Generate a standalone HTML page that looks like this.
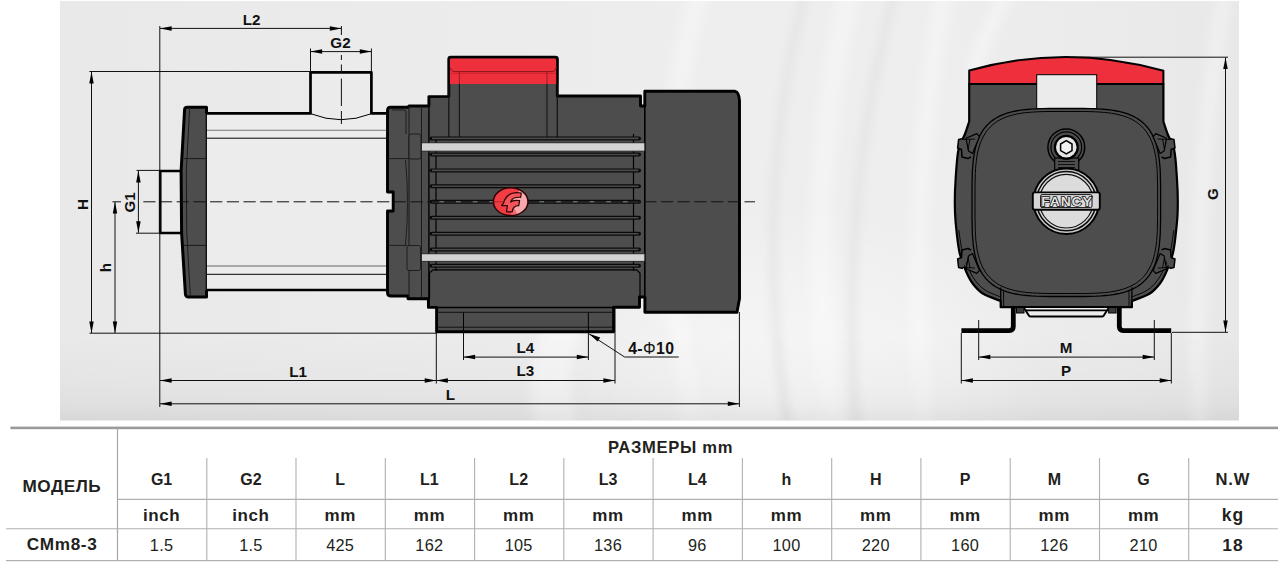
<!DOCTYPE html>
<html><head><meta charset="utf-8">
<style>
html,body{margin:0;padding:0;background:#fff;}
body{width:1288px;height:571px;overflow:hidden;font-family:"Liberation Sans",sans-serif;}
svg{display:block;}
text{font-family:"Liberation Sans",sans-serif;}
.lbl{font-weight:bold;font-size:15.2px;fill:#111;text-anchor:middle;}
.th{font-weight:bold;font-size:16px;fill:#231f20;text-anchor:middle;}
.tu{font-weight:bold;font-size:17px;letter-spacing:0.6px;fill:#231f20;text-anchor:middle;}
.td{font-size:16.3px;letter-spacing:0.3px;fill:#231f20;text-anchor:middle;}
.dim{stroke:#111;stroke-width:1;fill:none;}
.ext{stroke:#111;stroke-width:1;fill:none;}
.ol{stroke:#000;stroke-width:2.7;fill:none;stroke-linejoin:round;}
.thin{stroke:#000;stroke-width:1;fill:none;}
.ah{fill:#000;stroke:none;}
</style></head><body>
<svg width="1288" height="571" viewBox="0 0 1288 571">
<!-- PANEL -->
<g id="panel">
<defs>
<linearGradient id="bgh" x1="60" y1="0" x2="1239" y2="0" gradientUnits="userSpaceOnUse">
<stop offset="0" stop-color="#e9e9e9"/>
<stop offset="0.25" stop-color="#ebebeb"/>
<stop offset="0.42" stop-color="#ececec"/>
<stop offset="0.55" stop-color="#eeeeee"/>
<stop offset="0.74" stop-color="#eeeeee"/>
<stop offset="0.82" stop-color="#ececec"/>
<stop offset="0.93" stop-color="#eaeaea"/>
<stop offset="1" stop-color="#e8e8e8"/>
</linearGradient>
<radialGradient id="bgr" cx="790" cy="400" r="260" gradientUnits="userSpaceOnUse" gradientTransform="translate(790,400) scale(1,0.75) translate(-790,-400)">
<stop offset="0" stop-color="#fff" stop-opacity="0.55"/>
<stop offset="0.6" stop-color="#fff" stop-opacity="0.25"/>
<stop offset="1" stop-color="#fff" stop-opacity="0"/>
</radialGradient>
<linearGradient id="bgb" x1="0" y1="335" x2="0" y2="420.5" gradientUnits="userSpaceOnUse">
<stop offset="0" stop-color="#000" stop-opacity="0"/>
<stop offset="0.55" stop-color="#000" stop-opacity="0.02"/>
<stop offset="0.8" stop-color="#000" stop-opacity="0.04"/>
<stop offset="1" stop-color="#000" stop-opacity="0.075"/>
</linearGradient>
<filter id="blur6" x="-20%" y="-20%" width="140%" height="140%"><feGaussianBlur stdDeviation="5"/></filter>
<clipPath id="pclip"><rect x="60" y="1" width="1179" height="419.5"/></clipPath>
</defs>
<rect x="60" y="1" width="1179" height="419.5" fill="url(#bgh)"/>
<rect x="60" y="1" width="1179" height="419.5" fill="url(#bgr)"/>
<g clip-path="url(#pclip)" filter="url(#blur6)" fill="none" stroke-linecap="round">
<path d="M700,-10 Q640,200 700,440" stroke="#ffffff" stroke-opacity="0.3" stroke-width="20"/>
<path d="M806,-10 Q750,200 790,440" stroke="#dedede" stroke-opacity="0.55" stroke-width="9"/>
<path d="M850,-10 Q800,210 835,440" stroke="#ffffff" stroke-opacity="0.3" stroke-width="22"/>
<path d="M895,-10 Q836,210 858,440" stroke="#dedede" stroke-opacity="0.55" stroke-width="9"/>
<path d="M945,-10 Q905,200 925,440" stroke="#ffffff" stroke-opacity="0.3" stroke-width="18"/>
<path d="M1010,-10 Q985,30 975,70" stroke="#ffffff" stroke-opacity="0.35" stroke-width="14"/>
<path d="M1225,-10 Q1190,200 1200,440" stroke="#ffffff" stroke-opacity="0.3" stroke-width="16"/>
<path d="M560,335 Q540,380 560,440" stroke="#ffffff" stroke-opacity="0.45" stroke-width="40"/>
</g>
<rect x="60" y="330" width="1179" height="90.5" fill="url(#bgb)"/>
</g>
<!-- LEFTVIEW -->
<g id="leftview">
<rect x="206" y="113.4" width="182" height="176.6" fill="#ececec"/>
<path d="M310.5,113.4 L310.5,72.4 L371.4,72.4 L371.4,113.4 Q341,126 310.5,113.4 Z" fill="#ebebeb" stroke="none"/>
<path class="thin" d="M311,113.8 Q341,125.6 371,113.8"/>
<path class="ol" d="M205,113.4 L310.5,113.4 L310.5,72.4 L371.4,72.4 L371.4,113.4 L389,113.4"/>
<path class="ol" d="M205,290 L389,290"/>
<line x1="206" y1="130.2" x2="388" y2="130.2" stroke="#777" stroke-width="1.1"/>
<line class="thin" x1="206" y1="138.2" x2="388" y2="138.2" stroke-width="1.2"/>
<line x1="206" y1="266" x2="388" y2="266" stroke="#666" stroke-width="1.1"/>
<line class="thin" x1="206" y1="274.3" x2="388" y2="274.3" stroke-width="1.1"/>
<rect x="160" y="171" width="22" height="62" fill="#ebebeb"/>
<path class="ol" d="M181,171 L160.2,171 L160.2,233 L181.5,233"/>
<path d="M187,107 L206.5,107 L206.5,297 L188.5,297 Q185.6,297 185.4,294 L181.6,233 L181.1,171 L184.6,109.5 Q184.8,107 187,107 Z" fill="#4d4d4d"/>
<path d="M206.5,113.4 L206.5,107.2 L187,107.2 Q184.8,107.2 184.6,109.5 L181.1,171 L181.6,233 L185.4,294 Q185.6,297 188.5,297 L206.5,297 L206.5,290" fill="none" stroke="#000" stroke-width="3" stroke-linejoin="round"/>
<line x1="206.3" y1="113" x2="206.3" y2="290" stroke="#000" stroke-width="1.2"/>
<path d="M189.6,109 L186.3,171 L186.8,233 L190.3,295.5" fill="none" stroke="#161616" stroke-width="0.9"/>
<line x1="184" y1="158.6" x2="206" y2="158.6" stroke="#1a1a1a" stroke-width="1"/>
<line x1="184" y1="245.4" x2="206" y2="245.4" stroke="#1a1a1a" stroke-width="1"/>
<path d="M387.5,110.6 Q387.5,107.3 390.5,107.3 L408,107.3 L409,106 L428.9,106 L428.9,96.6 L448.8,96.4 L448.8,59.3 Q448.8,57.3 450.8,57.3 L555.4,57.3 Q557.4,57.3 557.4,59.3 L557.3,96 L640.5,96 L640.5,106 L644.8,106 L644.8,91.3 L735.2,91.3 Q739,92.2 739.5,100.5 L739.5,298.6 L737,312.2 L644.9,312.2 L644.9,297 L639.5,297 L639.5,307.3 L613.6,307.3 L613.6,331.7 L436.6,331.7 L436.6,307.4 L428.4,307.4 L428.4,298.7 L408,298.7 L408,296 L391,296 Q387.5,296 387.5,292.5 L387.5,211 L393.2,211 L393.2,192 L387.5,192 Z" fill="#4d4d4d" stroke="#000" stroke-width="2.9" stroke-linejoin="round"/>
<path d="M449.9,84 L449.9,60 Q449.9,58.5 451.5,58.5 L554.6,58.5 Q556.2,58.5 556.2,60 L556.2,84 Z" fill="#ee2f3c"/>
<path d="M450.5,67.5 Q450.8,71.6 455,71.6 L552,71.6 Q556,71.4 556.2,67" fill="none" stroke="#8a161d" stroke-width="1"/>
<path d="M451,73.4 L556,73.4" fill="none" stroke="#c3222c" stroke-width="0.8"/>
<line x1="459.4" y1="71.4" x2="459.4" y2="84" stroke="#9c1c24" stroke-width="1"/>
<line x1="547" y1="71.4" x2="547" y2="84" stroke="#9c1c24" stroke-width="1"/>
<line x1="459.4" y1="84" x2="459.4" y2="138" stroke="#111" stroke-width="1"/>
<line x1="547" y1="84" x2="547" y2="138" stroke="#111" stroke-width="1"/>
<line x1="448.8" y1="84" x2="448.8" y2="138" stroke="#111" stroke-width="1.2"/>
<line x1="557.3" y1="84" x2="557.3" y2="138" stroke="#111" stroke-width="1.2"/>
<line x1="644.8" y1="91.3" x2="644.8" y2="312" stroke="#000" stroke-width="1.6"/>
<path d="M409,106 L409,298" stroke="#1a1a1a" stroke-width="1" fill="none"/>
<path d="M421.5,106 L421.5,298" stroke="#1a1a1a" stroke-width="1" fill="none"/>
<path d="M428.9,96.4 L428.9,307" stroke="#000" stroke-width="1.4" fill="none"/>
<path d="M392,110 L404,110 Q406,110 406,112 L406,134" stroke="#1a1a1a" stroke-width="0.9" fill="none"/>
<rect x="409" y="134" width="12" height="25" rx="2" fill="#4d4d4d" stroke="#1a1a1a" stroke-width="0.9"/>
<rect x="407" y="245.5" width="13.5" height="25" rx="2" fill="#4d4d4d" stroke="#1a1a1a" stroke-width="0.9"/>
<line x1="388" y1="158.6" x2="409" y2="158.6" stroke="#1a1a1a" stroke-width="0.9"/>
<line x1="388" y1="245.4" x2="407" y2="245.4" stroke="#1a1a1a" stroke-width="0.9"/>
<path d="M405.5,160 Q409.5,202 405.5,245" stroke="#1a1a1a" stroke-width="0.9" fill="none"/>
<line x1="436" y1="138" x2="436" y2="271" stroke="#000" stroke-width="1.2"/>
<line x1="633.5" y1="134" x2="633.5" y2="271" stroke="#000" stroke-width="1.2"/>
<line x1="431.5" y1="138.4" x2="639" y2="138.4" stroke="#0a0a0a" stroke-width="4" stroke-linecap="round"/>
<line x1="432" y1="138.4" x2="638.5" y2="138.4" stroke="#4b4b4b" stroke-width="1.6"/>
<line x1="431.5" y1="154.5" x2="639" y2="154.5" stroke="#0a0a0a" stroke-width="4" stroke-linecap="round"/>
<line x1="432" y1="154.5" x2="638.5" y2="154.5" stroke="#4b4b4b" stroke-width="1.6"/>
<line x1="431.5" y1="170.4" x2="639" y2="170.4" stroke="#0a0a0a" stroke-width="4" stroke-linecap="round"/>
<line x1="432" y1="170.4" x2="638.5" y2="170.4" stroke="#4b4b4b" stroke-width="1.6"/>
<line x1="431.5" y1="186.2" x2="639" y2="186.2" stroke="#0a0a0a" stroke-width="4" stroke-linecap="round"/>
<line x1="432" y1="186.2" x2="638.5" y2="186.2" stroke="#4b4b4b" stroke-width="1.6"/>
<line x1="431.5" y1="201.7" x2="639" y2="201.7" stroke="#0a0a0a" stroke-width="4" stroke-linecap="round"/>
<line x1="432" y1="201.7" x2="638.5" y2="201.7" stroke="#4b4b4b" stroke-width="1.6"/>
<line x1="431.5" y1="217.8" x2="639" y2="217.8" stroke="#0a0a0a" stroke-width="4" stroke-linecap="round"/>
<line x1="432" y1="217.8" x2="638.5" y2="217.8" stroke="#4b4b4b" stroke-width="1.6"/>
<line x1="431.5" y1="233.7" x2="639" y2="233.7" stroke="#0a0a0a" stroke-width="4" stroke-linecap="round"/>
<line x1="432" y1="233.7" x2="638.5" y2="233.7" stroke="#4b4b4b" stroke-width="1.6"/>
<line x1="431.5" y1="249.5" x2="639" y2="249.5" stroke="#0a0a0a" stroke-width="4" stroke-linecap="round"/>
<line x1="432" y1="249.5" x2="638.5" y2="249.5" stroke="#4b4b4b" stroke-width="1.6"/>
<line x1="431.5" y1="265.7" x2="639" y2="265.7" stroke="#0a0a0a" stroke-width="4" stroke-linecap="round"/>
<line x1="432" y1="265.7" x2="638.5" y2="265.7" stroke="#4b4b4b" stroke-width="1.6"/>
<path d="M429.5,298 L429.5,273 L433,269.8 L636.5,269.8 L640,273 L640,296" fill="none" stroke="#000" stroke-width="1.2"/>
<rect x="421.5" y="142.8" width="223.3" height="8.3" fill="#d3d3d3" stroke="#1a1a1a" stroke-width="0.8"/>
<rect x="421.5" y="253.8" width="223.3" height="7.5" fill="#d3d3d3" stroke="#1a1a1a" stroke-width="0.8"/>
<line x1="437" y1="307.4" x2="613.6" y2="307.4" stroke="#000" stroke-width="1.5"/>
<line x1="437" y1="312.3" x2="613" y2="312.3" stroke="#111" stroke-width="1"/>
<line x1="437" y1="327.2" x2="613" y2="327.2" stroke="#111" stroke-width="1"/>
<line x1="463.5" y1="312.3" x2="463.5" y2="333" stroke="#000" stroke-width="1"/>
<line x1="588.4" y1="312.3" x2="588.4" y2="333" stroke="#000" stroke-width="1"/>
</g>
<!-- RIGHTVIEW -->
<g id="rightview">
<path d="M961.4,330.6 L1009.3,330.6 Q1013.3,330.6 1013.3,326.6 L1013.3,308" fill="none" stroke="#000" stroke-width="4.8" stroke-linejoin="round"/>
<path d="M1171.2,330.6 L1123.3,330.6 Q1119.3,330.6 1119.3,326.6 L1119.3,308" fill="none" stroke="#000" stroke-width="4.8" stroke-linejoin="round"/>
<path d="M969.2,84 L969.2,121.5 C968.5,123.6 966.8,129.2 965.0,134.0 C963.2,138.8 959.9,142.7 958.4,150.0 C956.9,157.3 956.3,169.3 955.7,178.0 C955.1,186.7 954.8,194.7 954.8,202.0 C954.8,209.3 954.9,213.8 955.6,222.0 C956.4,230.2 957.6,243.5 959.3,251.5 C960.9,259.5 963.3,264.8 965.5,270.0 C967.7,275.2 969.4,279.1 972.3,283.0 C975.2,286.9 978.1,290.5 982.8,293.5 C987.5,296.5 997.7,299.8 1000.7,301.0 L1000.7,307.2 L1131.9,307.2 L1131.9,301 C1134.9,299.8 1145.1,296.5 1149.8,293.5 C1154.5,290.5 1157.4,286.9 1160.3,283.0 C1163.2,279.1 1164.9,275.2 1167.1,270.0 C1169.3,264.8 1171.6,259.5 1173.3,251.5 C1175.0,243.5 1176.2,230.2 1177.0,222.0 C1177.8,213.8 1177.8,209.3 1177.8,202.0 C1177.8,194.7 1177.5,186.7 1176.9,178.0 C1176.3,169.3 1175.8,157.3 1174.2,150.0 C1172.7,142.7 1169.4,138.8 1167.6,134.0 C1165.8,129.2 1164.1,123.6 1163.4,121.5 L1163.4,84 Z" fill="#4d4d4d" stroke="#000" stroke-width="2.2" stroke-linejoin="round"/>
<path d="M958.8,230 C959.4,233.6 960.7,245.1 962.3,251.5 C963.9,257.9 966.3,263.7 968.5,268.5 C970.7,273.3 972.5,276.9 975.3,280.5 C978.0,284.1 980.8,287.2 985.0,290.0 C989.2,292.8 998.1,295.8 1000.7,297.0 " fill="none" stroke="#000" stroke-width="0.9"/>
<path d="M1173.8,230 C1173.2,233.6 1171.9,245.1 1170.3,251.5 C1168.7,257.9 1166.3,263.7 1164.1,268.5 C1161.9,273.3 1160.0,276.9 1157.3,280.5 C1154.5,284.1 1151.8,287.2 1147.6,290.0 C1143.4,292.8 1134.5,295.8 1131.9,297.0 " fill="none" stroke="#000" stroke-width="0.9"/>
<path d="M969.2,84 L969.2,70.5 Q1066.3,43.2 1163.4,70.8 L1163.4,84 Z" fill="#ee2f3c" stroke="#000" stroke-width="2" stroke-linejoin="round"/>
<rect x="1036.7" y="74.7" width="60" height="34" fill="#ebebeb" stroke="#000" stroke-width="1"/>
<path d="M1160.6,202.5 L1160.6,219.2 L1160.4,226.7 L1160.3,232.5 L1160.0,237.4 L1159.6,241.8 L1159.2,245.8 L1158.7,249.4 L1158.1,252.7 L1157.4,255.9 L1156.7,258.8 L1155.9,261.6 L1155.0,264.2 L1154.0,266.7 L1152.9,269.0 L1151.8,271.2 L1150.5,273.3 L1149.2,275.3 L1147.8,277.2 L1146.3,279.0 L1144.7,280.6 L1143.0,282.2 L1141.2,283.7 L1139.3,285.1 L1137.3,286.5 L1135.2,287.7 L1133.0,288.8 L1130.7,289.9 L1128.2,290.9 L1125.6,291.8 L1122.8,292.6 L1119.9,293.4 L1116.7,294.0 L1113.3,294.6 L1109.7,295.1 L1105.7,295.5 L1101.4,295.9 L1096.4,296.2 L1090.6,296.3 L1083.1,296.5 L1066.3,296.5 L1049.5,296.5 L1042.0,296.3 L1036.2,296.2 L1031.2,295.9 L1026.9,295.5 L1022.9,295.1 L1019.3,294.6 L1015.9,294.0 L1012.7,293.4 L1009.8,292.6 L1007.0,291.8 L1004.4,290.9 L1001.9,289.9 L999.6,288.8 L997.4,287.7 L995.3,286.5 L993.3,285.1 L991.4,283.7 L989.6,282.2 L987.9,280.6 L986.3,279.0 L984.8,277.2 L983.4,275.3 L982.1,273.3 L980.8,271.2 L979.7,269.0 L978.6,266.7 L977.6,264.2 L976.7,261.6 L975.9,258.8 L975.2,255.9 L974.5,252.7 L973.9,249.4 L973.4,245.8 L973.0,241.8 L972.6,237.4 L972.3,232.5 L972.2,226.7 L972.0,219.2 L972.0,202.5 L972.0,185.8 L972.2,178.3 L972.3,172.5 L972.6,167.6 L973.0,163.2 L973.4,159.2 L973.9,155.6 L974.5,152.3 L975.2,149.1 L975.9,146.2 L976.7,143.4 L977.6,140.8 L978.6,138.3 L979.7,136.0 L980.8,133.8 L982.1,131.7 L983.4,129.7 L984.8,127.8 L986.3,126.0 L987.9,124.4 L989.6,122.8 L991.4,121.3 L993.3,119.9 L995.3,118.5 L997.4,117.3 L999.6,116.2 L1001.9,115.1 L1004.4,114.1 L1007.0,113.2 L1009.8,112.4 L1012.7,111.6 L1015.9,111.0 L1019.3,110.4 L1022.9,109.9 L1026.9,109.5 L1031.2,109.1 L1036.2,108.8 L1042.0,108.7 L1049.5,108.5 L1066.3,108.5 L1083.1,108.5 L1090.6,108.7 L1096.4,108.8 L1101.4,109.1 L1105.7,109.5 L1109.7,109.9 L1113.3,110.4 L1116.7,111.0 L1119.9,111.6 L1122.8,112.4 L1125.6,113.2 L1128.2,114.1 L1130.7,115.1 L1133.0,116.2 L1135.2,117.3 L1137.3,118.5 L1139.3,119.9 L1141.2,121.3 L1143.0,122.8 L1144.7,124.4 L1146.3,126.0 L1147.8,127.8 L1149.2,129.7 L1150.5,131.7 L1151.8,133.8 L1152.9,136.0 L1154.0,138.3 L1155.0,140.8 L1155.9,143.4 L1156.7,146.2 L1157.4,149.1 L1158.1,152.3 L1158.7,155.6 L1159.2,159.2 L1159.6,163.2 L1160.0,167.6 L1160.3,172.5 L1160.4,178.3 L1160.6,185.8 Z" fill="#4d4d4d" stroke="#000" stroke-width="1.3"/>
<path d="M1157.6,202.5 L1157.6,218.7 L1157.4,225.9 L1157.3,231.5 L1157.0,236.3 L1156.7,240.6 L1156.2,244.4 L1155.8,247.9 L1155.2,251.1 L1154.5,254.2 L1153.8,257.0 L1153.0,259.7 L1152.2,262.2 L1151.2,264.6 L1150.2,266.9 L1149.0,269.0 L1147.8,271.0 L1146.6,273.0 L1145.2,274.8 L1143.7,276.5 L1142.2,278.1 L1140.6,279.7 L1138.8,281.1 L1137.0,282.5 L1135.1,283.8 L1133.0,285.0 L1130.9,286.1 L1128.6,287.1 L1126.2,288.1 L1123.7,288.9 L1121.0,289.7 L1118.1,290.5 L1115.1,291.1 L1111.8,291.7 L1108.3,292.2 L1104.5,292.6 L1100.2,292.9 L1095.4,293.2 L1089.8,293.4 L1082.5,293.5 L1066.3,293.5 L1050.1,293.5 L1042.8,293.4 L1037.2,293.2 L1032.4,292.9 L1028.1,292.6 L1024.3,292.2 L1020.8,291.7 L1017.5,291.1 L1014.5,290.5 L1011.6,289.7 L1008.9,288.9 L1006.4,288.1 L1004.0,287.1 L1001.7,286.1 L999.6,285.0 L997.5,283.8 L995.6,282.5 L993.8,281.1 L992.0,279.7 L990.4,278.1 L988.9,276.5 L987.4,274.8 L986.0,273.0 L984.8,271.0 L983.6,269.0 L982.4,266.9 L981.4,264.6 L980.4,262.2 L979.6,259.7 L978.8,257.0 L978.1,254.2 L977.4,251.1 L976.8,247.9 L976.4,244.4 L975.9,240.6 L975.6,236.3 L975.3,231.5 L975.2,225.9 L975.0,218.7 L975.0,202.5 L975.0,186.3 L975.2,179.1 L975.3,173.5 L975.6,168.7 L975.9,164.4 L976.4,160.6 L976.8,157.1 L977.4,153.9 L978.1,150.8 L978.8,148.0 L979.6,145.3 L980.4,142.8 L981.4,140.4 L982.4,138.1 L983.6,136.0 L984.8,134.0 L986.0,132.0 L987.4,130.2 L988.9,128.5 L990.4,126.9 L992.0,125.3 L993.8,123.9 L995.6,122.5 L997.5,121.2 L999.6,120.0 L1001.7,118.9 L1004.0,117.9 L1006.4,116.9 L1008.9,116.1 L1011.6,115.3 L1014.5,114.5 L1017.5,113.9 L1020.8,113.3 L1024.3,112.8 L1028.1,112.4 L1032.4,112.1 L1037.2,111.8 L1042.8,111.6 L1050.1,111.5 L1066.3,111.5 L1082.5,111.5 L1089.8,111.6 L1095.4,111.8 L1100.2,112.1 L1104.5,112.4 L1108.3,112.8 L1111.8,113.3 L1115.1,113.9 L1118.1,114.5 L1121.0,115.3 L1123.7,116.1 L1126.2,116.9 L1128.6,117.9 L1130.9,118.9 L1133.0,120.0 L1135.1,121.2 L1137.0,122.5 L1138.8,123.9 L1140.6,125.3 L1142.2,126.9 L1143.7,128.5 L1145.2,130.2 L1146.6,132.0 L1147.8,134.0 L1149.0,136.0 L1150.2,138.1 L1151.2,140.4 L1152.2,142.8 L1153.0,145.3 L1153.8,148.0 L1154.5,150.8 L1155.2,153.9 L1155.8,157.1 L1156.2,160.6 L1156.7,164.4 L1157.0,168.7 L1157.3,173.5 L1157.4,179.1 L1157.6,186.3 Z" fill="none" stroke="#000" stroke-width="1"/>
<path d="M1000.7,287.5 L1000.7,307" fill="none" stroke="#000" stroke-width="1.3"/>
<path d="M1131.9,287.5 L1131.9,307" fill="none" stroke="#000" stroke-width="1.3"/>
<path d="M1003.6,290.5 L1003.6,306" fill="none" stroke="#000" stroke-width="0.9"/>
<path d="M1129.0,290.5 L1129.0,306" fill="none" stroke="#000" stroke-width="0.9"/>
<path d="M1024,308 L1029,315.8 Q1029.5,316.6 1031,316.6 L1101.6,316.6 Q1103.1,316.6 1103.6,315.8 L1108.6,308" fill="#ececec" stroke="#000" stroke-width="2" stroke-linejoin="round"/>
<path d="M1026,310.4 L1106.6,310.4" stroke="#000" stroke-width="1.6"/>
<rect x="1016.5" y="307.5" width="7.5" height="5.5" fill="#3a3a3a" stroke="#000" stroke-width="1"/>
<rect x="1108.6" y="307.5" width="7.5" height="5.5" fill="#3a3a3a" stroke="#000" stroke-width="1"/>
<path d="M963,138.5 L958.6,139.5 L957.6,148 L961.5,149.5 L962,157 L968,158.5 L971,157" fill="#4d4d4d" stroke="#000" stroke-width="1.5" stroke-linejoin="round"/>
<path d="M966,138.2 L976.8,133.6 L979.5,136.5 L972.5,153.5 L968.5,151 Z" fill="#4d4d4d" stroke="#000" stroke-width="1.2" stroke-linejoin="round"/>
<path d="M970,139 L968,150 M962,139.5 L975,139" fill="none" stroke="#000" stroke-width="0.9"/>
<g transform="translate(2132.6,0) scale(-1,1)"><path d="M963,138.5 L958.6,139.5 L957.6,148 L961.5,149.5 L962,157 L968,158.5 L971,157" fill="#4d4d4d" stroke="#000" stroke-width="1.5" stroke-linejoin="round"/>
<path d="M966,138.2 L976.8,133.6 L979.5,136.5 L972.5,153.5 L968.5,151 Z" fill="#4d4d4d" stroke="#000" stroke-width="1.2" stroke-linejoin="round"/>
<path d="M970,139 L968,150 M962,139.5 L975,139" fill="none" stroke="#000" stroke-width="0.9"/></g>
<g transform="translate(0,407) scale(1,-1)"><path d="M963,138.5 L958.6,139.5 L957.6,148 L961.5,149.5 L962,157 L968,158.5 L971,157" fill="#4d4d4d" stroke="#000" stroke-width="1.5" stroke-linejoin="round"/>
<path d="M966,138.2 L976.8,133.6 L979.5,136.5 L972.5,153.5 L968.5,151 Z" fill="#4d4d4d" stroke="#000" stroke-width="1.2" stroke-linejoin="round"/>
<path d="M970,139 L968,150 M962,139.5 L975,139" fill="none" stroke="#000" stroke-width="0.9"/></g>
<g transform="translate(2132.6,407) scale(-1,-1)"><path d="M963,138.5 L958.6,139.5 L957.6,148 L961.5,149.5 L962,157 L968,158.5 L971,157" fill="#4d4d4d" stroke="#000" stroke-width="1.5" stroke-linejoin="round"/>
<path d="M966,138.2 L976.8,133.6 L979.5,136.5 L972.5,153.5 L968.5,151 Z" fill="#4d4d4d" stroke="#000" stroke-width="1.2" stroke-linejoin="round"/>
<path d="M970,139 L968,150 M962,139.5 L975,139" fill="none" stroke="#000" stroke-width="0.9"/></g>
<circle cx="1066.3" cy="147.3" r="18.4" fill="#4d4d4d" stroke="#000" stroke-width="1.5"/>
<circle cx="1066.3" cy="147.3" r="15.4" fill="none" stroke="#000" stroke-width="1.2"/>
<rect x="1054.7" y="158" width="24" height="14" fill="#4d4d4d" stroke="#000" stroke-width="1.2"/>
<line x1="1058" y1="161.5" x2="1075" y2="161.5" stroke="#000" stroke-width="0.8"/>
<line x1="1058" y1="164.5" x2="1075" y2="164.5" stroke="#000" stroke-width="0.8"/>
<line x1="1058" y1="167.5" x2="1075" y2="167.5" stroke="#000" stroke-width="0.8"/>
<circle cx="1066.3" cy="147.3" r="11.4" fill="#e6e6e6" stroke="#000" stroke-width="2.2"/>
<polygon points="1072.0,150.6 1066.3,153.9 1060.6,150.6 1060.6,144.0 1066.3,140.7 1072.0,144.0" fill="#f2f2f2" stroke="#000" stroke-width="1.5"/>
<circle cx="1066.3" cy="201.2" r="32.8" fill="#c9c9c9" stroke="#000" stroke-width="2"/>
<circle cx="1066.3" cy="201.2" r="29.6" fill="#dadada" stroke="#0a0a0a" stroke-width="1.5"/>
<circle cx="1066.3" cy="201.2" r="26.8" fill="#dcdcdc" stroke="#111" stroke-width="1.1"/>
<rect x="1032.8" y="192.4" width="67" height="17.4" rx="2" fill="#d6d6d6" stroke="#000" stroke-width="1.9"/>
<rect x="1040.6" y="194.6" width="51.4" height="13" rx="1.5" fill="#dcdcdc" stroke="#111" stroke-width="1"/>
<text x="0" y="0" transform="translate(1066.8999999999999,205.6) scale(1.13,1)" text-anchor="middle" style="font-weight:bold;font-size:12.4px;fill:#e2e2e2;stroke:#0a0a0a;stroke-width:1.5px;paint-order:stroke fill;letter-spacing:0.7px">FANCY</text>
</g>
<!-- DIMS -->
<g id="dims">
<line class="dim" x1="160" y1="28.4" x2="341.4" y2="28.4"/>
<path class="ah" d="M160,28.4 L171.6,26.15 L171.6,30.65 Z"/>
<path class="ah" d="M341.4,28.4 L329.8,26.15 L329.8,30.65 Z"/>
<line class="ext" x1="159.8" y1="26" x2="159.8" y2="407" />
<line class="ext" x1="341.4" y1="26" x2="341.4" y2="35" />
<path class="ext" d="M341.4,55 V60 M341.4,64.5 V72.4 M341.4,78.6 V106 M341.4,111 V124"/>
<text class="lbl" x="251.5" y="24.6">L2</text>
<line class="dim" x1="310.5" y1="51.6" x2="371.4" y2="51.6"/>
<path class="ah" d="M310.5,51.6 L322.1,49.35 L322.1,53.85 Z"/>
<path class="ah" d="M371.4,51.6 L359.8,49.35 L359.8,53.85 Z"/>
<line class="ext" x1="310.5" y1="48.5" x2="310.5" y2="72" />
<line class="ext" x1="371.4" y1="48.5" x2="371.4" y2="72" />
<text class="lbl" x="340.5" y="47.6">G2</text>
<line class="ext" x1="89.4" y1="71.5" x2="310" y2="71.5" />
<line class="dim" x1="91.5" y1="71.8" x2="91.5" y2="333"/>
<path class="ah" d="M91.5,71.8 L89.25,83.4 L93.75,83.4 Z"/>
<path class="ah" d="M91.5,333 L89.25,321.4 L93.75,321.4 Z"/>
<line class="ext" x1="89.5" y1="333.2" x2="437" y2="333.2" />
<text class="lbl" transform="translate(87.9,204.4) rotate(-90)" x="0" y="0">H</text>
<line class="dim" x1="115" y1="202" x2="115" y2="333"/>
<path class="ah" d="M115,202 L112.75,213.6 L117.25,213.6 Z"/>
<path class="ah" d="M115,333 L112.75,321.4 L117.25,321.4 Z"/>
<line class="ext" x1="112.5" y1="201.8" x2="121" y2="201.8" />
<text class="lbl" transform="translate(111.3,267.7) rotate(-90)" x="0" y="0">h</text>
<line class="ext" x1="143.3" y1="201.8" x2="755" y2="201.8" stroke-dasharray="12.2,4.5" stroke="#222"/>
<line class="ext" x1="136.5" y1="170.4" x2="160" y2="170.4" />
<line class="ext" x1="136" y1="233.2" x2="160" y2="233.2" />
<line class="dim" x1="138.4" y1="170.8" x2="138.4" y2="232.8"/>
<path class="ah" d="M138.4,170.8 L136.15,182.4 L140.65,182.4 Z"/>
<path class="ah" d="M138.4,232.8 L136.15,221.2 L140.65,221.2 Z"/>
<text class="lbl" transform="translate(134.6,202.4) rotate(-90)" x="0" y="0">G1</text>
<line class="dim" x1="160" y1="380.5" x2="436.3" y2="380.5"/>
<path class="ah" d="M160,380.5 L171.6,378.25 L171.6,382.75 Z"/>
<path class="ah" d="M436.3,380.5 L424.7,378.25 L424.7,382.75 Z"/>
<line class="dim" x1="436.3" y1="380.5" x2="615" y2="380.5"/>
<path class="ah" d="M436.3,380.5 L447.9,378.25 L447.9,382.75 Z"/>
<path class="ah" d="M615,380.5 L603.4,378.25 L603.4,382.75 Z"/>
<line class="ext" x1="436.3" y1="332" x2="436.3" y2="383.5" />
<line class="ext" x1="615" y1="308" x2="615" y2="383.5" />
<text class="lbl" x="298" y="376.6">L1</text>
<text class="lbl" x="525.3" y="376.4">L3</text>
<line class="dim" x1="463.5" y1="357.1" x2="588.4" y2="357.1"/>
<path class="ah" d="M463.5,357.1 L475.1,354.85 L475.1,359.35 Z"/>
<path class="ah" d="M588.4,357.1 L576.8,354.85 L576.8,359.35 Z"/>
<line class="ext" x1="463.5" y1="333" x2="463.5" y2="360" />
<line class="ext" x1="588.4" y1="333" x2="588.4" y2="360" />
<text class="lbl" x="525.3" y="353">L4</text>
<line class="dim" x1="160" y1="403.8" x2="739.4" y2="403.8"/>
<path class="ah" d="M160,403.8 L171.6,401.55 L171.6,406.05 Z"/>
<path class="ah" d="M739.4,403.8 L727.8,401.55 L727.8,406.05 Z"/>
<line class="ext" x1="739.4" y1="312" x2="739.4" y2="407" />
<text class="lbl" x="450.4" y="400.2">L</text>
<path class="dim" d="M589.3,334.1 L624.6,357 L678.7,357"/>
<path class="ah" d="M589,333.8 L600.2,337.4 L597.6,341.6 Z"/>
<text class="lbl" x="651.3" y="354" style="font-size:15.8px;letter-spacing:0.4px">4-<tspan style="font-weight:normal">Φ</tspan>10</text>
<line class="dim" x1="978.7" y1="357.1" x2="1154.3" y2="357.1"/>
<path class="ah" d="M978.7,357.1 L990.3,354.85 L990.3,359.35 Z"/>
<path class="ah" d="M1154.3,357.1 L1142.7,354.85 L1142.7,359.35 Z"/>
<line class="ext" x1="978.7" y1="320" x2="978.7" y2="360" />
<line class="ext" x1="1154.3" y1="320" x2="1154.3" y2="360" />
<text class="lbl" x="1066" y="353.2">M</text>
<line class="dim" x1="961.3" y1="380.5" x2="1171.3" y2="380.5"/>
<path class="ah" d="M961.3,380.5 L972.9,378.25 L972.9,382.75 Z"/>
<path class="ah" d="M1171.3,380.5 L1159.7,378.25 L1159.7,382.75 Z"/>
<line class="ext" x1="961.3" y1="333" x2="961.3" y2="383.5" />
<line class="ext" x1="1171.3" y1="333" x2="1171.3" y2="383.5" />
<text class="lbl" x="1066" y="376.3">P</text>
<line class="ext" x1="1071.5" y1="57.2" x2="1228" y2="57.2" />
<line class="ext" x1="1172" y1="332.3" x2="1228" y2="332.3" />
<line class="dim" x1="1225.5" y1="57.5" x2="1225.5" y2="332.1"/>
<path class="ah" d="M1225.5,57.5 L1223.25,69.1 L1227.75,69.1 Z"/>
<path class="ah" d="M1225.5,332.1 L1223.25,320.5 L1227.75,320.5 Z"/>
<text class="lbl" transform="translate(1217.5,194) rotate(-90)" x="0" y="0">G</text>
</g>
<g id="logo">
<clipPath id="lgc"><ellipse cx="510.7" cy="201.7" rx="17.3" ry="13.9"/></clipPath>
<clipPath id="finc"><rect x="430" y="199" width="210" height="6"/></clipPath>
<line x1="155.5" y1="201.8" x2="755" y2="201.8" stroke="#787878" stroke-width="1.1" stroke-dasharray="4.5,12.2" clip-path="url(#finc)"/>
<ellipse cx="510.7" cy="201.7" rx="17.3" ry="13.9" fill="#f13c44"/>
<g clip-path="url(#lgc)">
<path d="M510.7,201.7 L523,186 L532,186 L532,218 L519,218 Z" fill="#f9a9ab"/>
<path d="M510.7,201.7 L519,218 L511,218 Z" fill="#f46a6f"/>
<line x1="493" y1="201.8" x2="520" y2="201.8" stroke="#b01d24" stroke-width="0.9"/>
</g>
<path d="M521.3,193 Q507,190.8 503.6,203 L501.5,205.6 L507.4,205.6 L506.5,211.8 L512.3,211.8 Q512.6,205.6 518.8,205.6 L519.6,200.6 Q512.5,199.6 510.6,202.2 Q512,196.8 520.6,197.3 Z" fill="#f2545a" stroke="#2e0406" stroke-width="1.2" stroke-linejoin="round"/>
<ellipse cx="510.7" cy="201.7" rx="17.3" ry="13.9" fill="none" stroke="#2e0406" stroke-width="1.5"/>
</g>
<!-- TABLE -->
<g id="table">
<rect x="10.4" y="426.6" width="1267.6" height="2.6" fill="#9a9a9a"/>
<line x1="117.5" y1="428" x2="117.5" y2="561" stroke="#a6a6a6" stroke-width="1.2"/>
<line x1="206.8" y1="458" x2="206.8" y2="561" stroke="#b0b0b0" stroke-width="1.1"/>
<line x1="296.0" y1="458" x2="296.0" y2="561" stroke="#b0b0b0" stroke-width="1.1"/>
<line x1="385.3" y1="458" x2="385.3" y2="561" stroke="#b0b0b0" stroke-width="1.1"/>
<line x1="474.6" y1="458" x2="474.6" y2="561" stroke="#b0b0b0" stroke-width="1.1"/>
<line x1="563.8" y1="458" x2="563.8" y2="561" stroke="#b0b0b0" stroke-width="1.1"/>
<line x1="653.1" y1="458" x2="653.1" y2="561" stroke="#b0b0b0" stroke-width="1.1"/>
<line x1="742.4" y1="458" x2="742.4" y2="561" stroke="#b0b0b0" stroke-width="1.1"/>
<line x1="831.7" y1="458" x2="831.7" y2="561" stroke="#b0b0b0" stroke-width="1.1"/>
<line x1="920.9" y1="458" x2="920.9" y2="561" stroke="#b0b0b0" stroke-width="1.1"/>
<line x1="1010.2" y1="458" x2="1010.2" y2="561" stroke="#b0b0b0" stroke-width="1.1"/>
<line x1="1099.5" y1="458" x2="1099.5" y2="561" stroke="#b0b0b0" stroke-width="1.1"/>
<line x1="1188.7" y1="458" x2="1188.7" y2="561" stroke="#b0b0b0" stroke-width="1.1"/>
<line x1="117.5" y1="499.4" x2="1278" y2="499.4" stroke="#b0b0b0" stroke-width="1.1"/>
<line x1="6" y1="528.7" x2="1278" y2="528.7" stroke="#b0b0b0" stroke-width="1.1"/>
<line x1="6" y1="560.6" x2="1278" y2="560.6" stroke="#b0b0b0" stroke-width="1.1"/>
<text class="th" x="670.6" y="453.3" style="font-size:16.6px;letter-spacing:0.7px">РАЗМЕРЫ mm</text>
<text class="th" x="61.8" y="491.5" style="font-size:17.2px;letter-spacing:0.5px">МОДЕЛЬ</text>
<text class="th" x="62.1" y="549.8" style="font-size:17.2px;letter-spacing:0.6px">CMm8-3</text>
<text class="th" x="161.6" y="485">G1</text>
<text class="tu" x="161.6" y="521">inch</text>
<text class="td" x="161.6" y="550.9">1.5</text>
<text class="th" x="250.9" y="485">G2</text>
<text class="tu" x="250.9" y="521">inch</text>
<text class="td" x="250.9" y="550.9">1.5</text>
<text class="th" x="340.2" y="485">L</text>
<text class="tu" x="340.2" y="521">mm</text>
<text class="td" x="340.2" y="550.9">425</text>
<text class="th" x="429.4" y="485">L1</text>
<text class="tu" x="429.4" y="521">mm</text>
<text class="td" x="429.4" y="550.9">162</text>
<text class="th" x="518.7" y="485">L2</text>
<text class="tu" x="518.7" y="521">mm</text>
<text class="td" x="518.7" y="550.9">105</text>
<text class="th" x="608.0" y="485">L3</text>
<text class="tu" x="608.0" y="521">mm</text>
<text class="td" x="608.0" y="550.9">136</text>
<text class="th" x="697.3" y="485">L4</text>
<text class="tu" x="697.3" y="521">mm</text>
<text class="td" x="697.3" y="550.9">96</text>
<text class="th" x="786.5" y="485">h</text>
<text class="tu" x="786.5" y="521">mm</text>
<text class="td" x="786.5" y="550.9">100</text>
<text class="th" x="875.8" y="485">H</text>
<text class="tu" x="875.8" y="521">mm</text>
<text class="td" x="875.8" y="550.9">220</text>
<text class="th" x="965.1" y="485">P</text>
<text class="tu" x="965.1" y="521">mm</text>
<text class="td" x="965.1" y="550.9">160</text>
<text class="th" x="1054.3" y="485">M</text>
<text class="tu" x="1054.3" y="521">mm</text>
<text class="td" x="1054.3" y="550.9">126</text>
<text class="th" x="1143.6" y="485">G</text>
<text class="tu" x="1143.6" y="521">mm</text>
<text class="td" x="1143.6" y="550.9">210</text>
<text class="th" x="1232.9" y="485" style="font-size:16.6px;letter-spacing:0.8px">N.W</text>
<text class="tu" x="1232.9" y="521" style="font-size:17.5px;letter-spacing:1px">kg</text>
<text class="th" x="1232.9" y="550.8" style="font-size:17.4px;letter-spacing:1.1px">18</text>
</g>
</svg>
</body></html>
